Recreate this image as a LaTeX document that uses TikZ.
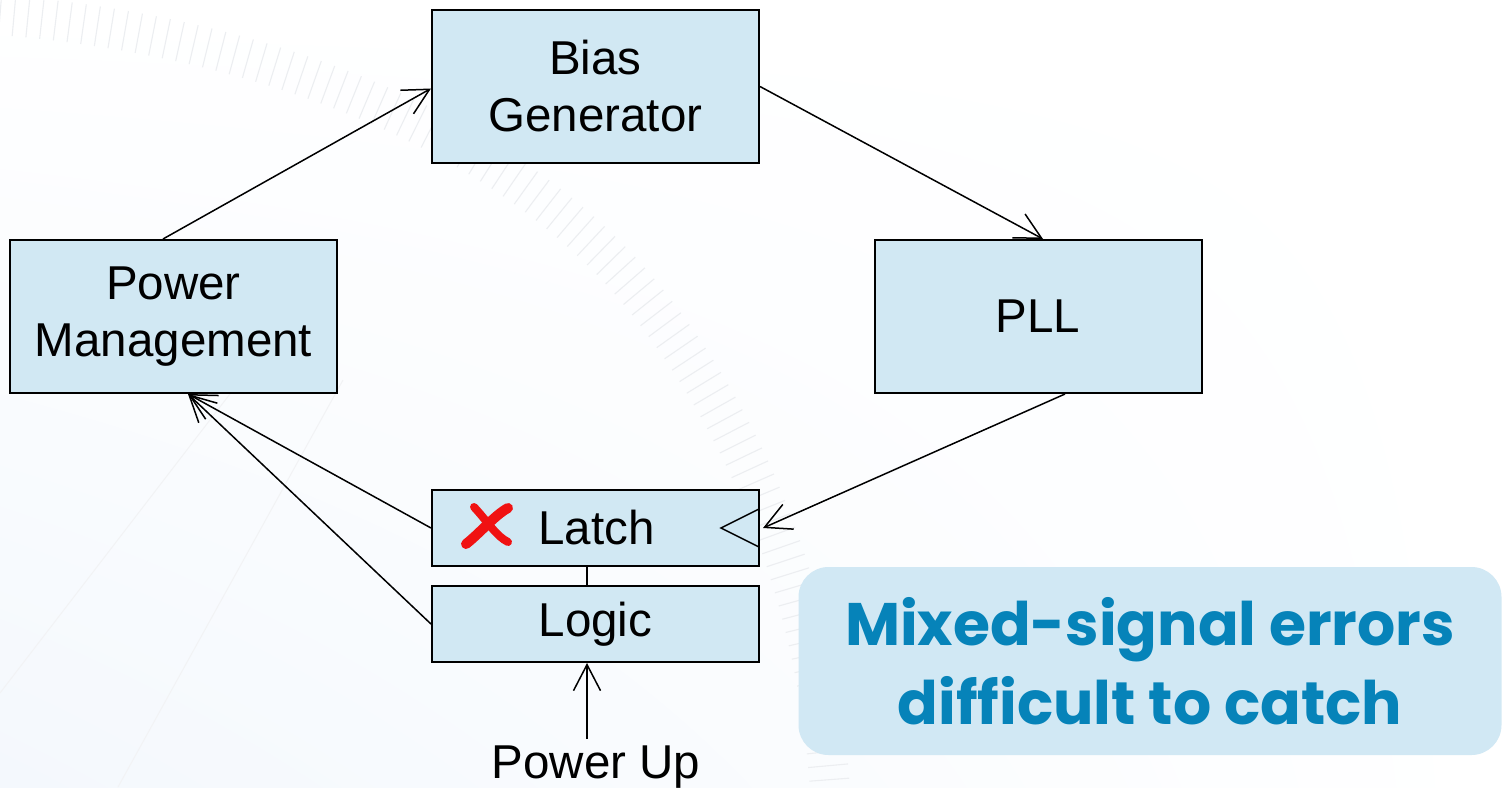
\documentclass[tikz,border=0pt]{standalone}
\usepackage{fontspec}
\setmainfont{Liberation Sans}
\newfontfamily\calloutfont{Poppins}
\usetikzlibrary{arrows.meta,decorations.pathreplacing,shadings}

\definecolor{boxfill}{RGB}{209,232,243}
\definecolor{callfill}{RGB}{209,232,244}
\definecolor{calltext}{RGB}{6,131,185}
\definecolor{xred}{RGB}{240,18,18}
\definecolor{bgtint}{RGB}{244,248,253}
\definecolor{tickgray}{RGB}{236,238,241}

\tikzset{
  block/.style={draw=black, line width=2pt, fill=boxfill, minimum width=327pt,
    align=center, inner sep=0pt, font=\fontsize{47.5}{57}\selectfont},
  tallblock/.style={block, minimum height=153pt},
  shortblock/.style={block, minimum height=76pt},
  link/.style={draw=black, line width=1.5pt},
  flow/.style={link, -{Straight Barb[length=26pt,width=27pt,line width=1.5pt]}},
  brush/.style={draw=xred, line width=10pt, line cap=round},
  callout/.style={fill=callfill, rounded corners=30pt, minimum width=703pt,
    minimum height=188pt, align=center, text=calltext, inner sep=0pt,
    font=\calloutfont\bfseries\fontsize{60}{79}\selectfont},
}

\begin{document}
\begin{tikzpicture}[x=1pt,y=-1pt]
  % page background
  \useasboundingbox (0,0) rectangle (1503,787);
  \shade[lower left=bgtint, upper left=white, upper right=white, lower right=white]
    (0,0) rectangle (1503,787);

  % faint dial watermark
  \draw[tickgray, line width=1.1pt, decorate,
        decoration={ticks, segment length=14pt, amplitude=20pt}]
    (0,15) .. controls (250,35) and (480,120) .. (620,270)
           .. controls (720,380) and (815,560) .. (830,790);
  \draw[tickgray!70, line width=1pt] (0,693) -- (233,390);
  \draw[tickgray!70, line width=1pt] (118,787) -- (343,380);

  % blocks
  \node[tallblock] (bias) at (595.5,86.5) {Bias\\Generator};
  \node[tallblock] (pm)   at (173.5,316.5) {Power\\Management};
  \node[tallblock] (pll)  at (1038,316.5) {PLL};
  \node[shortblock] (latch) at (595.5,528) {\hspace*{2pt}Latch};
  \node[shortblock] (logic) at (595.5,624) {Logic};
  \node[font=\fontsize{47.5}{57}\selectfont, anchor=base, inner sep=6pt]
    (pu) at (596,778) {Power Up};

  % brush-stroke error mark on the latch
  \draw[brush] (466,544) .. controls (480,533) and (495,515) .. (508,508);
  \draw[brush, line width=8pt] (474,507) .. controls (488,522) and (496,536) .. (508,542);

  % clock input of the latch
  \coordinate (ck1) at (759,509);
  \coordinate (ck2) at (721,528);
  \coordinate (ck3) at (759,547);
  \draw[link] (ck1) -- (ck2) -- (ck3);

  % callout
  \node[callout] (note) at (1150,661) {Mixed-signal errors\\difficult to catch};

  % connectors
  \draw[flow] ([xshift=-10.5pt]pm.north) -- ([yshift=-2pt]bias.west);
  \draw[flow] (bias.east) -- ([xshift=5pt]pll.north);
  \draw[flow] ([xshift=27pt]pll.south) -- ([xshift=3pt]latch.east);
  \draw[flow] (latch.west) -- ([xshift=14.5pt]pm.south);
  \draw[flow] (logic.west) -- ([xshift=14.5pt]pm.south);
  \draw[link] ([xshift=-8.5pt]latch.south) -- ([xshift=-8.5pt]logic.north);
  \draw[flow] ([xshift=-9pt]pu.north) -- ([xshift=-8.5pt]logic.south);
\end{tikzpicture}
\end{document}
